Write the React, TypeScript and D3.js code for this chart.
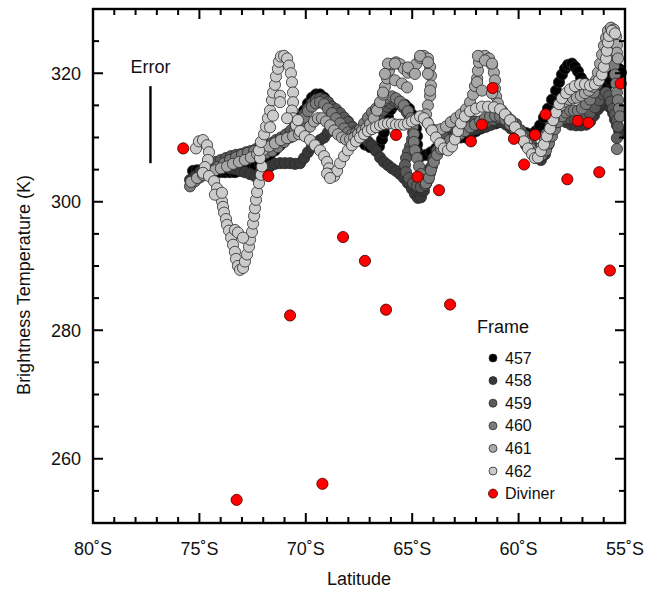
import React from "react";
import * as d3 from "d3";

// ---------- data (latitude in degrees S, brightness temperature in K) ----------
const frameNames = ["457", "458", "459", "460", "461", "462"];
const frameFills = ["#000000", "#383838", "#5a5a5a", "#7b7b7b", "#a8a8a8", "#cbcbcb"];

const f457: [number, number][] = [
  [75.30,304.8],[75.11,304.9],[74.92,304.9],[74.74,304.9],[74.50,304.8],[74.27,304.8],[74.03,304.6],[73.80,304.6],[73.56,304.6],[73.33,304.6],[73.09,304.8],[72.86,304.9],[72.62,305.1],[72.39,305.4],[72.15,305.9],[71.92,306.5],[71.68,307.3],[71.45,308.0],[71.21,308.8],[70.98,309.7],[70.74,310.8],[70.51,311.9],[70.27,313.1],[70.08,314.2],[69.90,315.3],[69.71,316.2],[69.52,316.7],[69.33,316.7],[69.14,316.2],[68.96,315.5],[68.77,314.7],[68.58,314.1],[68.39,313.4],[68.20,312.8],[68.02,312.1],[67.83,311.3],[67.64,310.5],[67.45,309.7],[67.22,308.9],[66.98,308.5],[66.75,308.2],[66.56,308.6],[66.42,309.7],[66.33,310.8],[66.23,312.0],[66.14,313.3],[66.00,314.4],[65.81,315.1],[65.57,315.5],[65.34,315.1],[65.15,314.5],[65.01,313.6],[64.92,312.5],[64.82,311.4],[64.77,310.2],[64.77,308.9],[64.77,307.9],[64.59,307.1],[64.35,307.3],[64.12,307.7],[63.88,308.3],[63.65,308.8],[63.41,309.3],[63.18,309.7],[62.94,310.0],[62.71,310.0],[62.47,310.0],[62.24,310.4],[62.00,311.0],[61.77,311.4],[61.53,311.7],[61.30,312.0],[61.06,312.2],[60.83,312.4],[60.59,312.2],[60.36,311.9],[60.12,311.4],[59.89,311.0],[59.65,310.7],[59.42,310.5],[59.18,311.0],[58.99,311.9],[58.81,313.1],[58.62,314.5],[58.43,315.9],[58.24,317.3],[58.10,318.6],[57.96,319.8],[57.82,320.7],[57.68,321.3],[57.49,321.5],[57.35,321.0],[57.21,320.3],[57.07,319.3],[56.93,318.6],[56.74,317.9],[56.50,317.6],[56.27,317.5],[56.03,317.6],[55.85,318.1],[55.70,318.9],[55.56,319.8],[55.42,320.4],[55.28,320.7],[55.19,320.1]
];

const f458: [number, number][] = [
  [75.44,303.4],[75.21,304.0],[74.97,304.6],[74.74,304.9],[74.50,305.2],[74.27,305.4],[74.03,305.4],[73.80,305.4],[73.56,305.2],[73.33,305.1],[73.09,304.9],[72.86,304.6],[72.62,304.3],[72.39,304.0],[72.15,304.5],[71.92,305.1],[71.68,305.5],[71.45,305.9],[71.21,306.0],[70.98,306.0],[70.74,306.0],[70.51,305.9],[70.27,306.0],[70.08,306.8],[69.90,307.7],[69.71,308.5],[69.52,309.1],[69.33,309.6],[69.14,310.0],[68.96,310.8],[68.77,311.7],[68.58,312.5],[68.39,313.0],[68.20,313.0],[68.02,312.5],[67.83,311.7],[67.64,311.0],[67.45,310.4],[67.26,309.9],[67.08,309.4],[66.89,308.8],[66.70,307.9],[66.51,306.9],[66.33,306.2],[66.14,305.7],[65.95,305.2],[65.76,304.8],[65.57,304.3],[65.39,303.7],[65.20,302.9],[65.01,302.0],[64.87,301.2],[64.73,300.6],[64.59,300.7],[64.45,301.7],[64.35,302.8],[64.26,304.0],[64.16,305.2],[64.02,306.5],[63.83,307.7],[63.65,308.6],[63.41,309.4],[63.18,310.0],[62.94,310.5],[62.71,310.8],[62.47,311.0],[62.24,311.1],[62.00,311.3],[61.77,311.6],[61.53,311.7],[61.30,312.0],[61.06,312.4],[60.83,312.4],[60.59,312.0],[60.36,311.4],[60.12,310.8],[59.89,309.9],[59.65,308.8],[59.42,307.9],[59.18,306.9],[58.95,306.5],[58.76,307.4],[58.62,308.8],[58.48,310.2],[58.34,311.4],[58.20,312.4],[58.01,312.7],[57.77,312.4],[57.54,312.0],[57.30,311.9],[57.07,311.9],[56.83,312.0],[56.64,312.5],[56.46,313.4],[56.27,314.4],[56.08,315.0],[55.89,315.2],[55.70,314.7],[55.56,313.8],[55.47,312.8],[55.38,311.9],[55.28,311.1],[55.24,310.5]
];

const f459: [number, number][] = [
  [75.39,302.9],[75.16,303.5],[74.92,304.3],[74.69,305.1],[74.45,305.7],[74.22,306.2],[73.99,306.5],[73.75,306.8],[73.52,307.1],[73.28,307.3],[73.05,307.4],[72.81,307.7],[72.58,307.9],[72.34,308.2],[72.11,308.5],[71.87,308.8],[71.64,309.1],[71.40,309.6],[71.17,310.0],[70.93,310.5],[70.70,311.1],[70.46,311.9],[70.27,312.7],[70.08,313.6],[69.90,314.5],[69.71,315.3],[69.52,315.9],[69.33,316.1],[69.14,315.9],[68.96,315.5],[68.77,314.8],[68.58,314.4],[68.39,313.8],[68.20,313.1],[68.02,312.4],[67.83,311.6],[67.64,311.0],[67.41,310.7],[67.17,310.8],[66.94,311.4],[66.75,312.4],[66.56,313.3],[66.37,314.2],[66.18,314.8],[66.00,315.3],[65.81,315.6],[65.62,315.3],[65.43,314.7],[65.25,313.9],[65.10,313.0],[65.01,311.9],[64.96,310.8],[65.01,309.7],[65.10,308.6],[65.20,307.7],[65.29,306.8],[65.34,305.7],[65.29,304.6],[65.15,303.7],[64.96,302.9],[64.77,302.5],[64.59,302.3],[64.40,302.6],[64.26,303.4],[64.16,304.5],[64.07,305.5],[63.98,306.8],[63.83,308.0],[63.69,309.3],[63.55,310.5],[63.36,311.6],[63.13,312.4],[62.89,312.8],[62.61,313.0],[62.33,312.8],[62.05,312.5],[61.77,312.4],[61.48,312.5],[61.20,312.7],[60.92,313.0],[60.64,313.0],[60.36,312.7],[60.12,312.1],[59.89,311.1],[59.65,310.2],[59.42,309.1],[59.23,308.2],[59.04,307.6],[58.85,308.0],[58.71,309.0],[58.57,310.0],[58.43,311.1],[58.24,312.1],[58.05,312.7],[57.82,313.0],[57.58,313.0],[57.35,312.8],[57.11,312.8],[56.88,313.1],[56.64,313.8],[56.41,314.7],[56.22,315.8],[56.03,316.7],[55.89,317.0],[55.75,316.5],[55.66,315.6],[55.56,314.5],[55.47,313.6],[55.38,312.7],[55.33,311.7],[55.38,309.9]
];

const f460: [number, number][] = [
  [75.44,302.4],[75.21,303.2],[74.97,303.8],[74.69,304.3],[74.41,304.8],[74.13,305.4],[73.84,306.0],[73.56,306.5],[73.28,306.9],[73.00,307.3],[72.72,307.6],[72.43,307.9],[72.15,307.7],[71.87,307.6],[71.59,307.9],[71.31,308.5],[71.02,309.3],[70.74,310.0],[70.51,311.0],[70.27,312.0],[70.08,313.1],[69.90,314.1],[69.71,314.8],[69.52,315.3],[69.33,315.5],[69.14,315.2],[68.96,314.5],[68.77,313.8],[68.58,313.0],[68.39,312.2],[68.20,311.4],[68.02,310.8],[67.83,310.5],[67.64,310.7],[67.45,311.3],[67.26,312.2],[67.08,313.1],[66.89,313.9],[66.70,314.5],[66.51,315.2],[66.33,315.8],[66.14,316.2],[65.95,316.4],[65.76,316.1],[65.57,315.6],[65.39,315.0],[65.20,314.1],[65.06,313.0],[64.96,311.7],[64.92,310.5],[64.92,309.3],[64.87,308.0],[64.77,306.8],[64.68,305.5],[64.59,304.3],[64.49,303.4],[64.35,302.9],[64.21,303.7],[64.12,304.9],[63.98,306.2],[63.83,307.3],[63.65,308.2],[63.46,309.0],[63.22,309.6],[62.99,310.0],[62.75,310.5],[62.52,311.0],[62.28,311.6],[62.05,312.0],[61.81,312.5],[61.58,313.0],[61.34,313.3],[61.11,313.4],[60.87,313.3],[60.64,312.8],[60.40,312.0],[60.17,311.3],[59.93,310.4],[59.70,309.6],[59.46,308.6],[59.28,307.9],[59.09,307.4],[58.90,307.3],[58.71,308.0],[58.57,309.1],[58.43,310.2],[58.29,311.3],[58.15,312.4],[57.96,313.3],[57.77,313.9],[57.58,314.2],[57.40,314.2],[57.21,314.2],[57.02,314.5],[56.83,315.2],[56.64,315.9],[56.46,317.0],[56.32,318.3],[56.17,319.5],[56.08,320.7],[55.99,322.0],[55.89,323.2],[55.80,324.1],[55.66,323.8],[55.56,322.6],[55.52,321.2],[55.47,319.8],[55.42,318.4],[55.38,317.0],[55.33,315.8],[55.28,314.5],[55.24,313.3],[55.38,308.2]
];

const f461: [number, number][] = [
  [75.39,303.1],[75.11,303.7],[74.83,304.2],[74.55,304.6],[74.27,304.9],[73.99,305.2],[73.70,305.5],[73.42,305.9],[73.14,306.2],[72.86,306.5],[72.58,306.9],[72.29,307.4],[72.01,308.0],[71.73,308.6],[71.45,309.1],[71.17,309.6],[70.88,309.9],[70.60,310.2],[70.32,310.5],[70.04,311.1],[69.80,311.7],[69.61,312.5],[69.43,313.0],[69.24,313.0],[69.05,312.5],[68.86,311.9],[68.67,311.1],[68.49,310.5],[68.30,310.0],[68.11,309.7],[67.92,309.7],[67.73,310.0],[67.55,310.5],[67.36,311.0],[67.17,311.4],[66.98,312.1],[66.80,313.0],[66.65,314.2],[66.51,315.5],[66.37,316.7],[66.28,317.9],[66.18,319.2],[66.09,320.4],[65.95,321.4],[65.76,321.7],[65.57,321.4],[65.39,320.7],[65.20,320.1],[65.01,320.4],[64.82,321.4],[64.63,322.4],[64.45,322.7],[64.26,322.3],[64.16,321.0],[64.12,319.6],[64.12,318.1],[64.16,316.5],[64.26,315.0],[64.35,313.6],[64.30,312.4],[64.12,311.4],[63.88,311.1],[63.65,311.3],[63.41,311.7],[63.18,312.4],[62.94,313.0],[62.71,313.6],[62.47,314.4],[62.28,315.5],[62.14,316.7],[62.05,318.0],[61.95,319.2],[61.91,320.4],[61.86,321.7],[61.77,322.6],[61.58,322.7],[61.39,322.3],[61.25,321.3],[61.16,320.1],[61.11,318.9],[61.11,317.6],[61.06,316.4],[60.97,315.3],[60.78,314.2],[60.55,313.3],[60.31,312.4],[60.08,311.3],[59.84,310.2],[59.61,309.1],[59.42,308.2],[59.23,307.6],[59.04,307.9],[58.90,308.6],[58.76,309.6],[58.62,310.7],[58.48,311.7],[58.34,313.0],[58.20,314.1],[58.01,315.0],[57.82,315.6],[57.63,315.9],[57.44,316.1],[57.26,316.2],[57.07,316.5],[56.88,316.9],[56.69,317.3],[56.50,317.9],[56.36,318.9],[56.27,320.1],[56.17,321.5],[56.08,322.9],[55.99,324.3],[55.89,325.5],[55.80,326.6],[55.66,327.1],[55.52,326.8],[55.42,325.7],[55.38,324.4],[55.38,323.2],[55.33,322.3],
  [66.14,321.5],[65.81,321.5],[65.20,320.9],[64.87,319.9],[66.28,319.9],[65.81,318.9],[65.48,318.4],[65.24,317.8],[66.37,317.0],[64.63,322.7],[64.26,321.7],[64.26,319.9],[64.16,317.3],
  [61.91,322.7],[61.58,322.0],[61.25,321.5],[61.95,318.6],[61.72,317.3],[61.25,316.9]
];

const f462: [number, number][] = [
  [75.16,308.3],[75.02,309.4],[74.83,309.6],[74.64,308.8],[74.55,307.7],[74.60,306.5],[74.74,305.4],[74.83,304.5],[74.55,304.0],[74.31,303.2],[74.17,302.1],[74.08,301.1],[73.94,300.1],[73.89,299.2],[73.84,298.3],[73.75,297.3],[73.70,296.4],[73.61,295.5],[73.51,294.4],[73.42,293.3],[73.33,292.2],[73.28,291.1],[73.19,290.0],[73.09,289.4],[72.95,289.7],[72.86,290.7],[72.76,291.8],[72.67,293.0],[72.62,294.1],[72.53,295.3],[72.48,296.6],[72.43,297.8],[72.39,299.0],[72.34,300.3],[72.29,301.5],[72.20,302.9],[72.11,304.2],[72.06,305.5],[72.15,306.8],[72.20,308.0],[72.11,309.3],[71.96,310.5],[71.87,311.7],[71.78,313.0],[71.68,314.2],[71.59,315.8],[71.54,317.0],[71.45,318.2],[71.40,319.5],[71.31,320.7],[71.26,321.8],[71.17,322.6],[71.02,322.7],[70.88,322.3],[70.79,321.2],[70.70,320.0],[70.65,318.6],[70.60,317.0],[70.60,315.5],[70.65,314.2],[70.60,313.0],[70.46,311.9],[70.27,311.0],[70.04,310.2],[69.80,309.6],[69.57,308.8],[69.33,308.0],[69.14,307.1],[69.00,306.2],[68.91,305.2],[68.82,304.3],[68.67,304.0],[68.53,304.8],[68.39,306.0],[68.20,307.1],[68.02,308.0],[67.83,308.8],[67.64,309.4],[67.45,310.0],[67.26,310.5],[67.08,311.0],[66.89,311.3],[66.70,311.6],[66.51,311.9],[66.33,312.1],[66.14,312.2],[65.95,312.2],[65.76,312.0],[65.57,312.0],[65.39,312.0],[65.20,312.2],[65.01,312.5],[64.82,312.8],[64.63,313.3],[64.45,313.0],[64.26,312.2],[64.07,311.1],[63.88,310.0],[63.69,309.1],[63.51,308.3],[63.32,308.0],[63.13,308.6],[62.99,309.7],[62.85,311.0],[62.71,312.2],[62.52,313.3],[62.28,314.1],[62.00,314.5],[61.72,314.8],[61.44,314.8],[61.16,314.7],[60.87,314.4],[60.64,313.6],[60.40,312.7],[60.17,311.6],[59.93,310.5],[59.75,309.4],[59.56,308.3],[59.37,307.4],[59.23,306.8],[59.09,306.9],[58.95,307.9],[58.81,308.9],[58.67,310.2],[58.52,311.4],[58.38,312.7],[58.24,313.9],[58.10,315.2],[57.96,316.1],[57.77,316.9],[57.58,317.5],[57.35,318.0],[57.11,318.3],[56.88,318.3],[56.64,318.1],[56.41,318.3],[56.22,318.9],[56.08,319.8],[55.99,321.0],[55.89,322.3],[55.85,323.5],[55.80,324.8],[55.75,325.8],[55.61,326.6],[55.47,326.2],
  [71.21,316.5],[71.21,315.5],[71.54,313.4],[70.88,313.0],[71.68,311.6],[70.37,312.7],[69.00,304.4],[68.86,303.7],[74.27,301.1],[73.94,301.4],[73.33,295.6],[73.19,295.2],[72.95,294.4]
];

const diviner: [number, number][] = [
  [75.76,308.3],[71.76,304.0],[73.25,253.6],[70.74,282.3],[69.22,256.1],[68.25,294.5],[67.22,290.8],[66.23,283.2],[65.76,310.4],[64.75,303.9],[63.74,301.8],[63.22,284.0],[62.24,309.4],[61.73,312.0],[61.22,317.7],[60.22,309.8],[59.74,305.8],[59.23,310.4],[58.73,313.6],[57.71,303.5],[57.22,312.6],[56.72,312.3],[56.21,304.6],[55.71,289.3],[55.20,318.4]
];

const frameData = [f457, f458, f459, f460, f461, f462];

const xMajorTicks = [80, 75, 70, 65, 60, 55];
const xTickLabels = ["80˚S", "75˚S", "70˚S", "65˚S", "60˚S", "55˚S"];
const yMajorTicks = [260, 280, 300, 320];
const errorBar = { lat: 77.3, low: 306, high: 318 };

// ---------- layout ----------
const W = 651;
const H = 592;
const M = { left: 93, right: 625, top: 9, bottom: 523 };
const FONT = "'Liberation Sans', Arial, Helvetica, sans-serif";

export default function App() {
  const x = d3.scaleLinear().domain([80, 55]).range([M.left, M.right]);
  const y = d3.scaleLinear().domain([250, 330]).range([M.bottom, M.top]);

  const xMinor = x.ticks(25);
  const yMinor = y.ticks(16);

  const major = 10;
  const minor = 6;
  const axisW = 2.4;

  return (
    <svg
      width={W}
      height={H}
      style={{ position: "absolute", left: 0, top: 0, background: "#fff" }}
      fontFamily={FONT}
    >
      <rect x={0} y={0} width={W} height={H} fill="#fff" />

      {/* points */}
      {frameData.map((pts, fi) => (
        <g key={frameNames[fi]}>
          {pts.map((d, i) => (
            <circle
              key={i}
              cx={x(d[0])}
              cy={y(d[1])}
              r={5.6}
              fill={frameFills[fi]}
              stroke="#2b2b2b"
              strokeWidth={0.8}
            />
          ))}
        </g>
      ))}
      <g>
        {diviner.map((d, i) => (
          <circle key={i} cx={x(d[0])} cy={y(d[1])} r={5.6} fill="#ff0000" stroke="#3a0000" strokeWidth={0.8} />
        ))}
      </g>

      {/* error bar */}
      <line
        x1={x(errorBar.lat)}
        x2={x(errorBar.lat)}
        y1={y(errorBar.high)}
        y2={y(errorBar.low)}
        stroke="#000"
        strokeWidth={2.4}
      />
      <text x={x(errorBar.lat) - 20} y={73} fontSize={18} fill="#111">Error</text>

      {/* ticks */}
      <g stroke="#000" strokeWidth={2}>
        {xMinor.map((t) => {
          const len = xMajorTicks.includes(t) ? major : minor;
          return (
            <g key={"x" + t}>
              <line x1={x(t)} x2={x(t)} y1={M.bottom} y2={M.bottom - len} />
              <line x1={x(t)} x2={x(t)} y1={M.top} y2={M.top + len} />
            </g>
          );
        })}
        {yMinor.map((t) => {
          const len = yMajorTicks.includes(t) ? major : minor;
          return (
            <g key={"y" + t}>
              <line x1={M.left} x2={M.left + len} y1={y(t)} y2={y(t)} />
              <line x1={M.right} x2={M.right - len} y1={y(t)} y2={y(t)} />
            </g>
          );
        })}
      </g>

      {/* frame */}
      <rect
        x={M.left}
        y={M.top}
        width={M.right - M.left}
        height={M.bottom - M.top}
        fill="none"
        stroke="#000"
        strokeWidth={axisW}
      />

      {/* tick labels */}
      {xMajorTicks.map((t, i) => (
        <text key={"xl" + t} x={x(t)} y={555} fontSize={18} textAnchor="middle" fill="#111">
          {xTickLabels[i]}
        </text>
      ))}
      {yMajorTicks.map((t) => (
        <text key={"yl" + t} x={81} y={y(t) + 6.5} fontSize={18} textAnchor="end" fill="#111">
          {t}
        </text>
      ))}

      {/* axis titles */}
      <text x={(M.left + M.right) / 2} y={585} fontSize={18} textAnchor="middle" fill="#111">
        Latitude
      </text>
      <text
        transform={`translate(30, 285) rotate(-90)`}
        fontSize={18}
        textAnchor="middle"
        fill="#111"
      >
        Brightness Temperature (K)
      </text>

      {/* legend */}
      <text x={477} y={333} fontSize={18} fill="#111">Frame</text>
      {frameNames.map((n, i) => (
        <g key={"lg" + n}>
          <circle cx={493} cy={358 + i * 22.6} r={4} fill={frameFills[i]} stroke="#2b2b2b" strokeWidth={0.8} />
          <text x={505} y={358 + i * 22.6 + 5.5} fontSize={16} fill="#111">{n}</text>
        </g>
      ))}
      <circle cx={493} cy={358 + 6 * 22.6} r={4.5} fill="#ff0000" stroke="#3a0000" strokeWidth={0.8} />
      <text x={505} y={358 + 6 * 22.6 + 5.5} fontSize={16} fill="#111">Diviner</text>
    </svg>
  );
}
